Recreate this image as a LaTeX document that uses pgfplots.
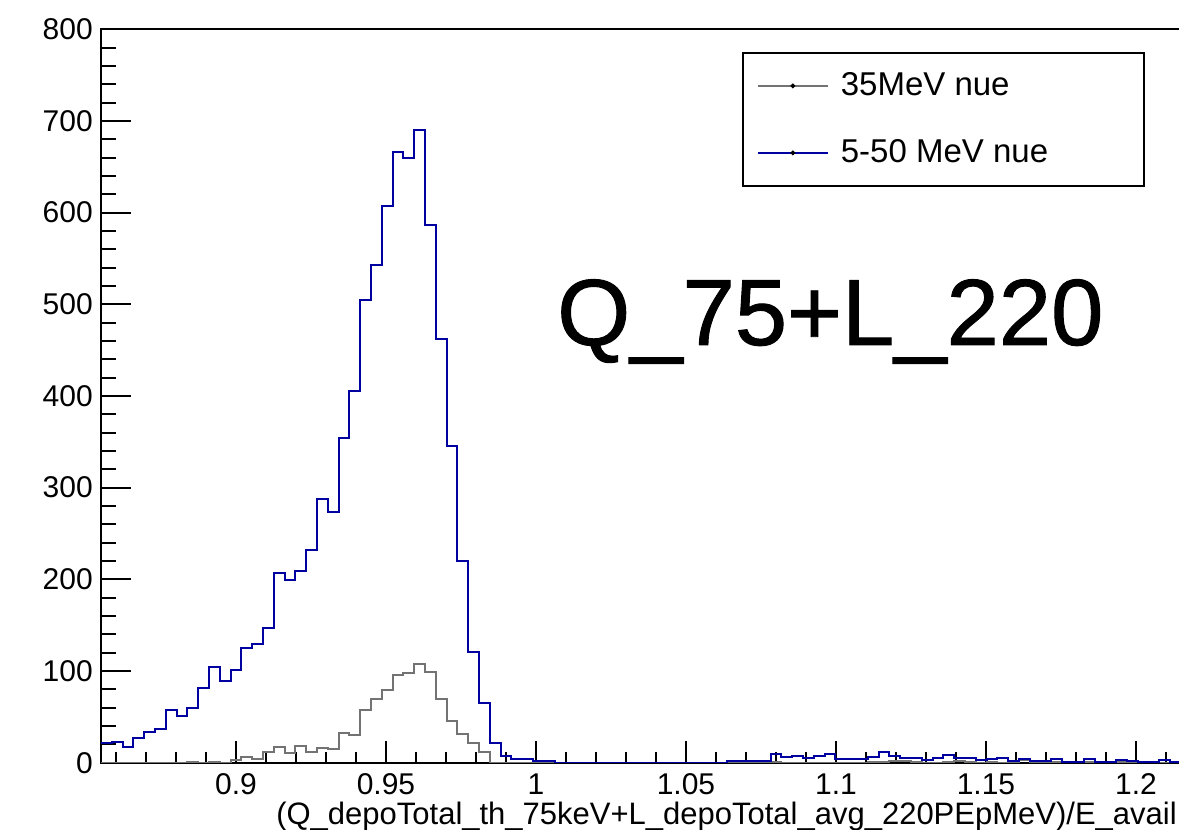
\documentclass[border=0pt]{standalone}
\usepackage{fontspec}
\setmainfont{Liberation Sans}
\newfontfamily\titlefont[FakeBold=1]{Liberation Sans}
\usepackage{pgfplots}
\usepackage{pgfplotstable}
\pgfplotsset{compat=1.18}
\definecolor{rootblue}{RGB}{0,0,160}
\definecolor{rootgray}{RGB}{115,115,115}
\pgfplotstableread{
x g b
0.855 0 22
0.8586 0 23
0.8622 0 17
0.8658 0 27
0.8694 0 33
0.873 0 37
0.8766 0 57
0.8802 0 51
0.8838 1 60
0.8874 0 82
0.891 1 104
0.8946 0 89
0.8982 3 101
0.9018 6 125
0.9054 4 129
0.909 12 147
0.9126 17 207
0.9162 11 199
0.9198 18 209
0.9234 12 232
0.927 16 288
0.9306 15 273
0.9342 32 354
0.9378 30 405
0.9414 58 505
0.945 69 543
0.9486 79 607
0.9522 96 666
0.9558 98 660
0.9594 108 690
0.963 99 586
0.9666 69 462
0.9702 46 346
0.9738 31 220
0.9774 22 121
0.981 12 65
0.9846 0 22
0.9882 0 7
0.9918 0 4
0.9954 0 4
0.999 0 2
1.0026 0 2
1.0062 0 0
1.0098 0 0
1.0134 0 0
1.017 0 0
1.0206 0 0
1.0242 0 0
1.0278 0 0
1.0314 0 0
1.035 0 0
1.0386 0 0
1.0422 0 0
1.0458 0 0
1.0494 0 0
1.053 0 0
1.0566 0 0
1.0602 0 0
1.0638 0 2
1.0674 0 2
1.071 0 2
1.0746 0 2
1.0782 1 9
1.0818 0 6
1.0854 0 7
1.089 0 5
1.0926 0 7
1.0962 0 10
1.0998 0 4
1.1034 0 4
1.107 0 4
1.1106 1 6
1.1142 1 12
1.1178 2 7
1.1214 2 5
1.125 1 5
1.1286 0 3
1.1322 0 5
1.1358 1 8
1.1394 2 5
1.143 1 5
1.1466 0 3
1.1502 1 4
1.1538 0 5
1.1574 0 2
1.161 3 4
1.1646 1 2
1.1682 0 2
1.1718 1 4
1.1754 0 1
1.179 0 1
1.1826 1 4
1.1862 0 1
1.1898 0 1
1.1934 1 3
1.197 0 2
1.2006 1 1
1.2042 0 1
1.2078 0 3
1.2114 0 1
1.215 0 1
}\histdata
\begin{document}
\begin{tikzpicture}
\useasboundingbox (0,0) rectangle (1179pt,830pt);
\clip (0,0) rectangle (1179pt,830pt);
\begin{axis}[
  at={(101pt,67.3pt)}, anchor=south west,
  scale only axis, width=1080pt, height=733.4pt,
  xmin=0.855, xmax=1.215, ymin=0, ymax=800,
  axis line style={line width=2pt},
  every tick/.style={black, line width=2pt},
  tick align=inside, xtick pos=bottom, ytick pos=left,
  xtick={0.9,0.95,1,1.05,1.1,1.15,1.2},
  xticklabels={0.9,0.95,1,1.05,1.1,1.15,1.2},
  minor xtick={0.86,0.87,0.88,0.89,0.91,0.92,0.93,0.94,0.96,0.97,0.98,0.99,1.01,1.02,1.03,1.04,1.06,1.07,1.08,1.09,1.11,1.12,1.13,1.14,1.16,1.17,1.18,1.19,1.21},
  ytick={0,100,...,800},
  minor ytick={0,20,...,800},
  xtick style={/pgfplots/major tick length=22pt, /pgfplots/minor tick length=11pt},
  ytick style={/pgfplots/major tick length=30pt, /pgfplots/minor tick length=15pt},
  /pgf/number format/assume math mode=true,
  tick label style={font=\fontsize{30}{30}\selectfont},
  xticklabel style={anchor=base, inner sep=0pt, yshift=-32.3pt},
  yticklabel style={anchor=east, inner sep=0pt, xshift=-8pt},
  xlabel={(Q\_depoTotal\_th\_75keV+L\_depoTotal\_avg\_220PEpMeV)/E\_avail},
  xlabel style={at={(axis description cs:0.9963,0)}, anchor=base east, inner sep=0pt, yshift=-62.3pt, font=\fontsize{31}{31}\selectfont},
  legend style={at={(axis description cs:0.5935,0.969)}, anchor=north west,
    draw=black, line width=1.8pt, inner xsep=14pt, inner ysep=16.5pt,
    font=\fontsize{33}{33}\selectfont, row sep=34pt, column sep=10pt,
    nodes={inner sep=2pt, text height=24pt, text depth=5pt}},
  legend cell align=left,
  legend image code/.code={
    \draw[#1] (0pt,0pt) -- (70pt,0pt);
    \fill[black] (35pt,0pt) circle (1.2pt);
  },
]
\addplot[const plot mark left, rootgray, line width=2pt] table[x=x, y=g] {\histdata};
\addlegendentry{\makebox[287pt][l]{35MeV nue}}
\addplot[const plot mark left, rootblue, line width=2pt] table[x=x, y=b] {\histdata};
\addlegendentry{\makebox[287pt][l]{5-50 MeV nue}}
\end{axis}
\node[anchor=base west, inner sep=0pt, font=\titlefont\fontsize{94}{94}\selectfont] at (557pt,485pt) {Q\_75+L\_220};
\end{tikzpicture}
\end{document}
